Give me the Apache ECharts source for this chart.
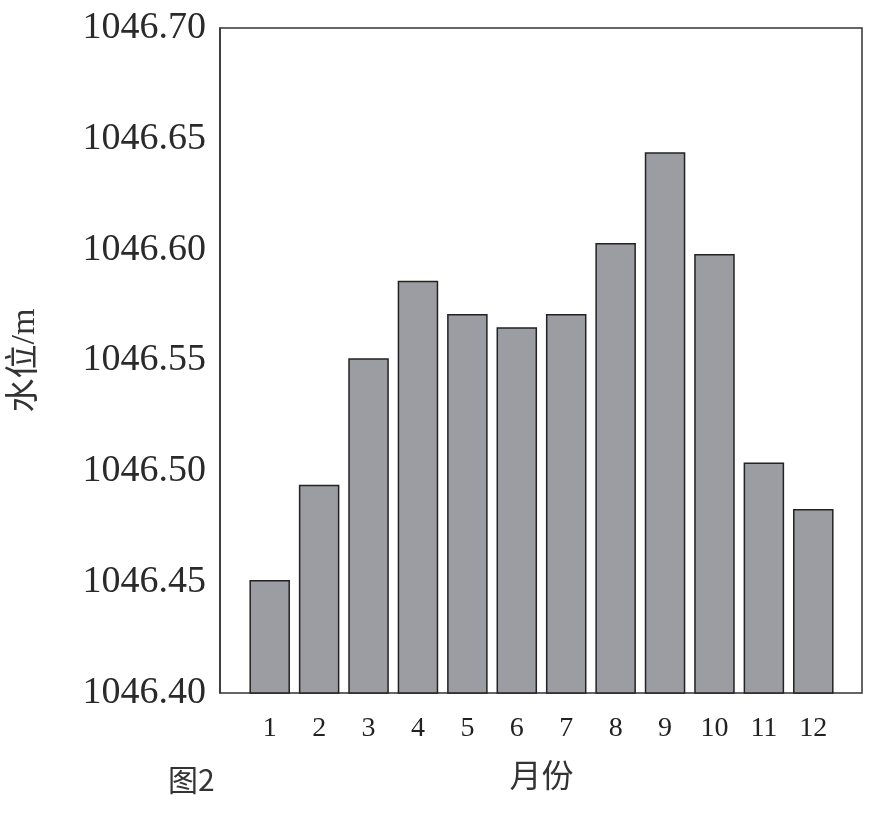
<!DOCTYPE html>
<html>
<head>
<meta charset="utf-8">
<script src="https://cdn.jsdelivr.net/npm/echarts@6/dist/echarts.min.js"></script>
<style>html,body{margin:0;padding:0;background:#fff}#main{width:876px;height:824px}</style>
</head>
<body>
<div id="main"></div>
<script>
var months = ['1', '2', '3', '4', '5', '6', '7', '8', '9', '10', '11', '12'];
var levels = [1046.451, 1046.494, 1046.551, 1046.586, 1046.571, 1046.565, 1046.571, 1046.603, 1046.644, 1046.598, 1046.504, 1046.483];

var chart = echarts.init(document.getElementById('main'));
var serif = '"Liberation Serif", "Noto Sans CJK SC", serif';
var option = {
  backgroundColor: '#fff',
  animation: false,
  grid: [
    { left: 220, right: 14, top: 28, bottom: 131, show: true, borderColor: '#333', borderWidth: 1.5 },
    { left: 245, right: 38, top: 28, bottom: 131 }
  ],
  title: {
    text: '图2', left: 163, top: 760,
    textStyle: { fontFamily: '"Noto Sans CJK SC", sans-serif', fontSize: 30, fontWeight: 'normal', color: '#333' }
  },
  xAxis: [{
    gridIndex: 0, type: 'value', show: false, min: 0, max: 1
  }, {
    gridIndex: 1,
    type: 'category',
    data: months,
    name: '月份',
    nameLocation: 'middle',
    nameGap: 70,
    nameTextStyle: { fontFamily: serif, fontSize: 32, color: '#333' },
    axisLine: { show: false },
    axisTick: { show: false },
    axisLabel: { fontFamily: serif, fontSize: 28, color: '#222', margin: 22 }
  }],
  yAxis: [{
    gridIndex: 0,
    type: 'value',
    min: 1046.40,
    max: 1046.70,
    interval: 0.05,
    name: '水位/m',
    nameLocation: 'middle',
    nameGap: 178,
    nameTextStyle: { fontFamily: serif, fontSize: 34, color: '#333' },
    axisLine: { show: true, lineStyle: { color: '#333', width: 1.5 } },
    axisTick: { show: false },
    splitLine: { show: false },
    axisLabel: {
      fontFamily: serif, fontSize: 38, color: '#2a2a2a', margin: 14,
      formatter: function (v) { return v.toFixed(2); }
    }
  }, {
    gridIndex: 1, type: 'value', show: false, min: 1046.40, max: 1046.70, splitLine: { show: false }
  }],
  series: [{
    type: 'bar',
    xAxisIndex: 1,
    yAxisIndex: 1,
    data: levels,
    barCategoryGap: '18%',
    itemStyle: { color: '#9c9da2', borderColor: '#222', borderWidth: 1.5 }
  }]
};
chart.setOption(option);
</script>
</body>
</html>
